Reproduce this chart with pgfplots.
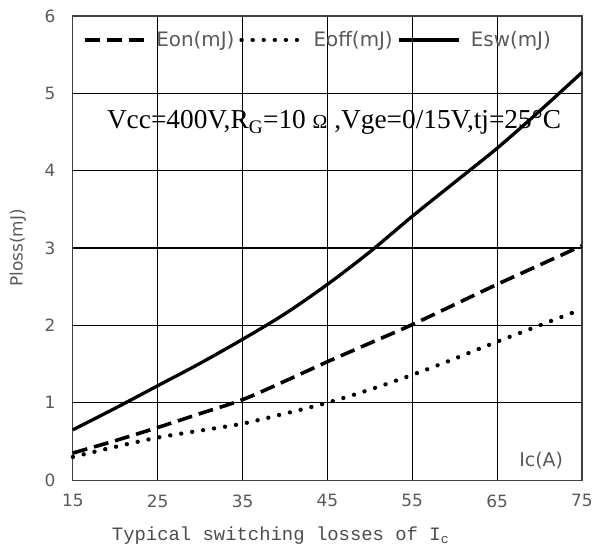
\documentclass[border=0pt]{standalone}
\usepackage{pgfplots}
\pgfplotsset{compat=1.18}
\usepackage{fontspec}
\setmainfont{DejaVu Sans}
\newfontfamily\monofont{Liberation Mono}
\newfontfamily\serifont{Liberation Serif}
\definecolor{txtgray}{HTML}{595959}
\begin{document}
\begin{tikzpicture}
\begin{axis}[
  scale only axis, width=510bp, height=465bp,
  xmin=15, xmax=75, ymin=0, ymax=6,
  xtick={15,25,35,45,55,65,75}, ytick={0,1,2,3,4,5,6},
  grid=major, major grid style={black, line width=1.1bp},
  axis line style={black!75, line width=1.2bp},
  major tick length=0pt,
  /pgf/number format/assume math mode=true,
  tick label style={text=txtgray, font=\fontsize{17}{20}\selectfont},
  xticklabel style={yshift=-11bp},
  yticklabel style={xshift=-14bp},
  legend columns=3,
  legend style={draw=none, fill=none, at={(axis cs:15.8,5.69)}, anchor=west,
    font=\color{txtgray}\fontsize{20}{23}\selectfont,
    nodes={inner xsep=5bp},
    /tikz/every even column/.append style={column sep=0bp},
    /tikz/every odd column/.append style={column sep=5bp}},
  legend image code/.code={\draw[#1] (0bp,0bp) -- (60bp,0bp);},
  clip=false,
]
\addplot[black, line width=3.6bp, dash pattern=on 15bp off 7bp, smooth] coordinates {
(15,0.35) (20,0.51) (25,0.68) (30,0.86) (35,1.04) (40,1.28) (45,1.53) (50,1.77) (55,2.01) (60,2.27) (65,2.53) (70,2.78) (75,3.03)};
\addlegendentry{Eon(mJ)}
\addplot[black, line width=4.3bp, line cap=round, dash pattern=on 0.1bp off 11bp, smooth] coordinates {
(15,0.30) (20,0.43) (25,0.55) (30,0.64) (35,0.73) (40,0.86) (45,1.00) (50,1.17) (55,1.36) (60,1.57) (65,1.79) (70,2.00) (75,2.21)};
\addlegendentry{Eoff(mJ)}
\addplot[black, line width=3.3bp, smooth] coordinates {
(15,0.65) (20,0.93) (25,1.22) (30,1.51) (35,1.82) (40,2.15) (45,2.53) (50,2.95) (55,3.41) (60,3.85) (65,4.29) (70,4.77) (75,5.27)};
\addlegendentry{Esw(mJ)}
\node[anchor=west, inner sep=0pt, font=\serifont\fontsize{27.5}{30}\selectfont] at (axis cs:19,4.62)
  {Vcc=400V,R\textsubscript{G}=10 {\fontsize{20}{22}\selectfont Ω} ,Vge=0/15V,tj=25°C};
\node[anchor=center, text=txtgray, font=\fontsize{19}{22}\selectfont] at (axis cs:70.2,0.25) {Ic(A)};
\node[anchor=center, text=black!70, font=\monofont\fontsize{19}{22}\selectfont] at ([yshift=-56bp]rel axis cs:0.408,0) {Typical switching losses of I\textsubscript{c}};
\node[anchor=center, rotate=90, text=txtgray, font=\fontsize{17}{20}\selectfont] at ([xshift=-55bp]rel axis cs:0,0.5) {Ploss(mJ)};
\useasboundingbox ([xshift=-73bp,yshift=-71bp]rel axis cs:0,0) rectangle ([xshift=13bp,yshift=16bp]rel axis cs:1,1);
\end{axis}
\end{tikzpicture}
\end{document}
